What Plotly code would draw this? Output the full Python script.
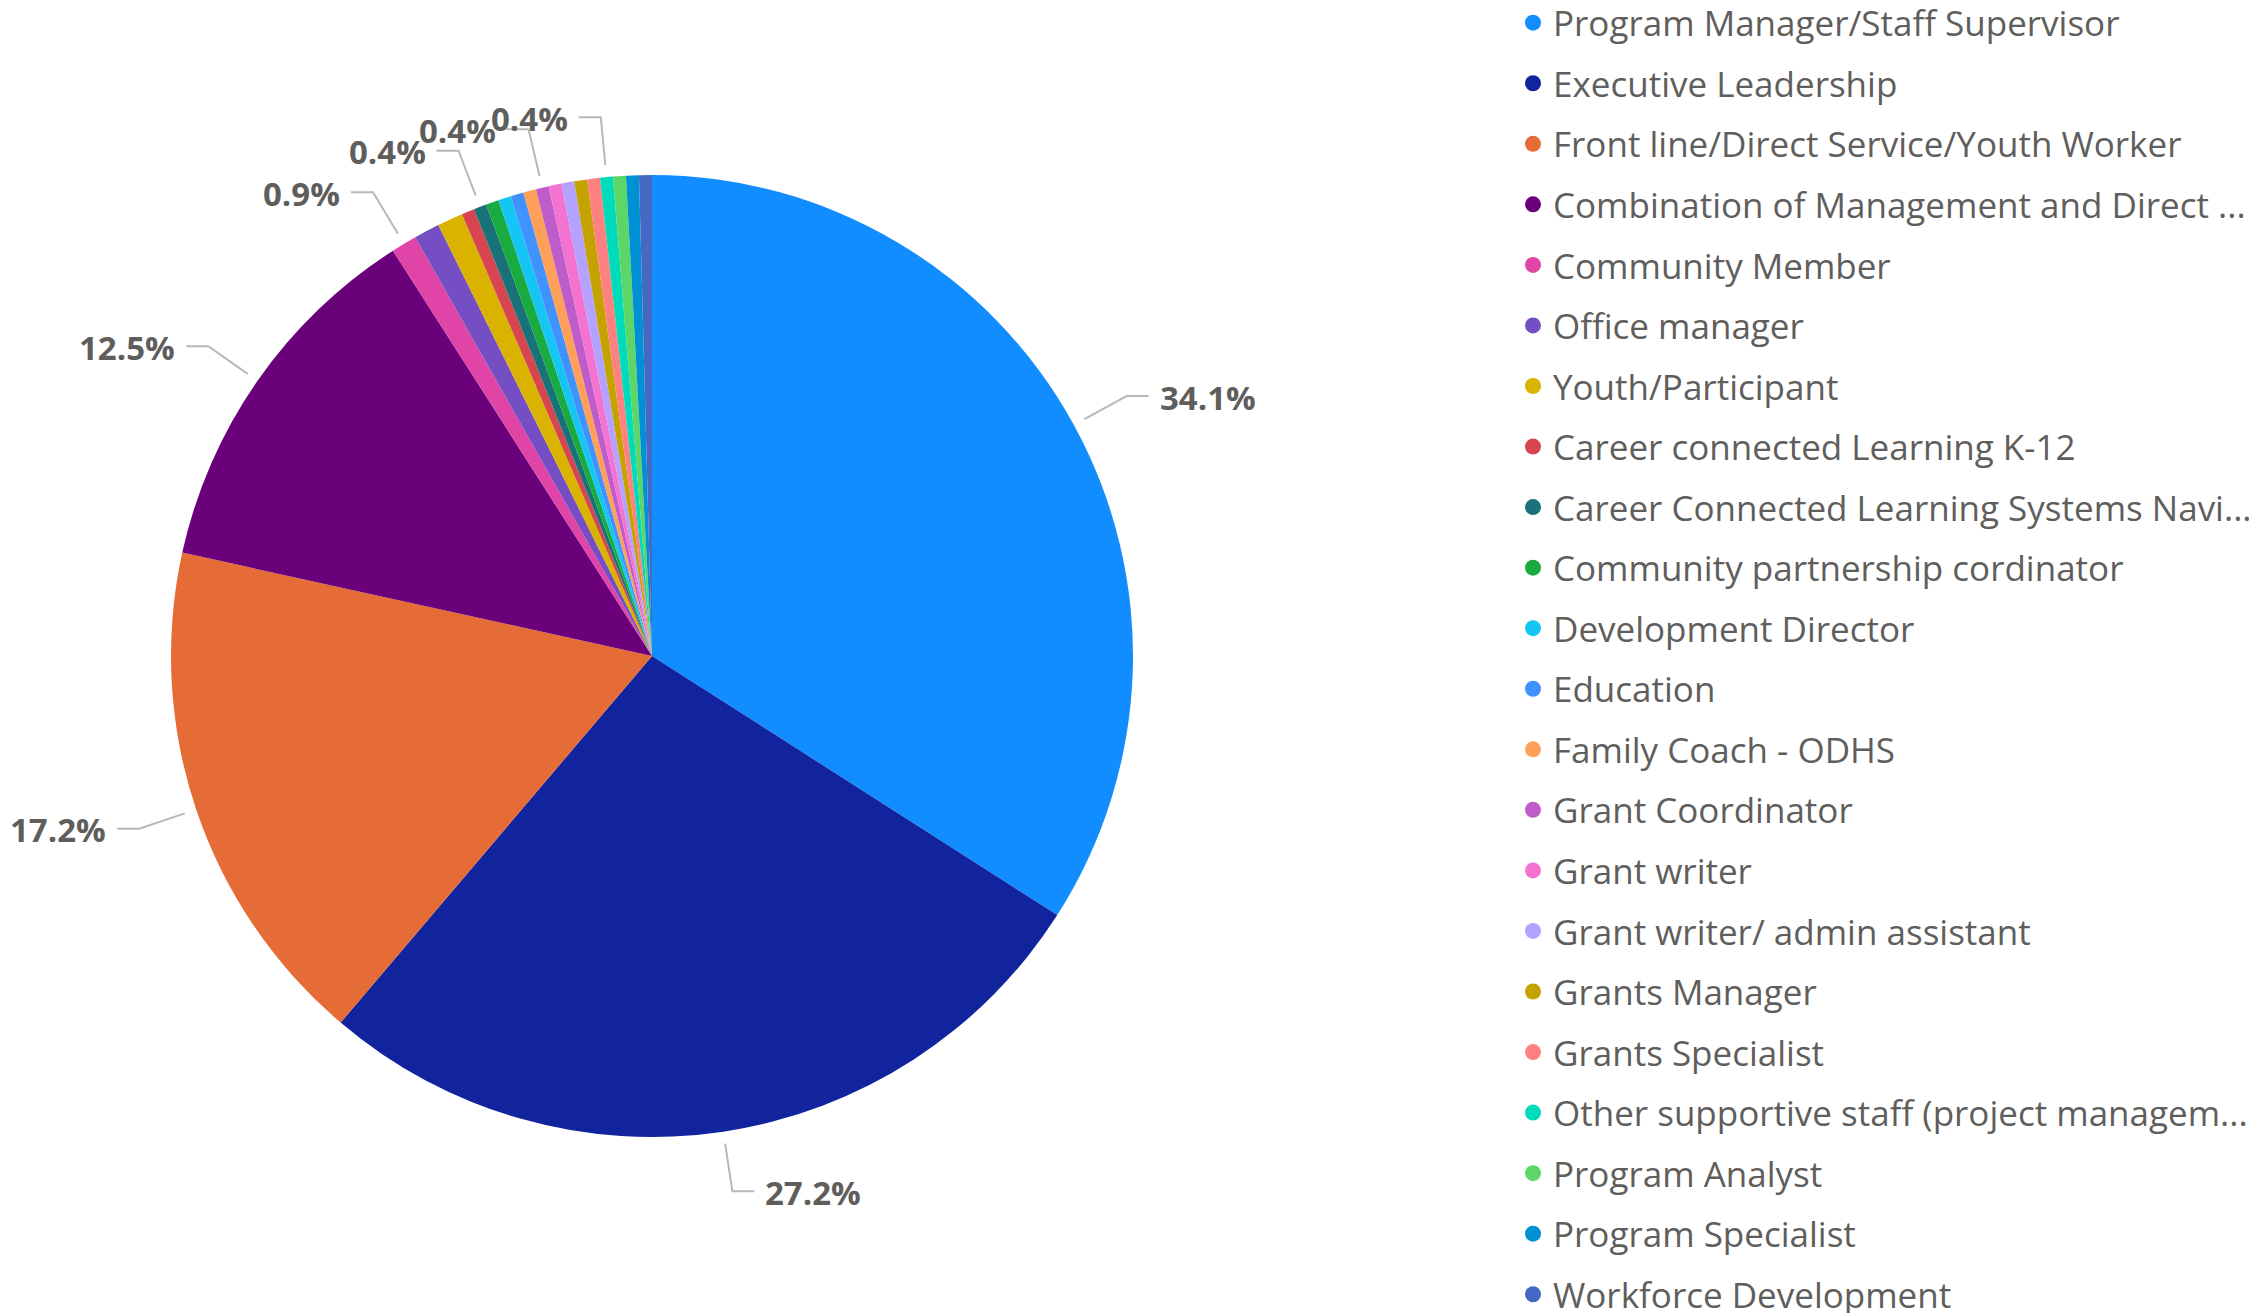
import math

import plotly.graph_objects as go

# roles as they appear (truncated) in the legend
roles = [
    "Program Manager/Staff Supervisor",
    "Executive Leadership",
    "Front line/Direct Service/Youth Worker",
    "Combination of Management and Direct ...",
    "Community Member",
    "Office manager",
    "Youth/Participant",
    "Career connected Learning K-12",
    "Career Connected Learning Systems Navi...",
    "Community partnership cordinator",
    "Development Director",
    "Education",
    "Family Coach - ODHS",
    "Grant Coordinator",
    "Grant writer",
    "Grant writer/ admin assistant",
    "Grants Manager",
    "Grants Specialist",
    "Other supportive staff (project managem...",
    "Program Analyst",
    "Program Specialist",
    "Workforce Development",
]
counts = [79, 63, 40, 29, 2, 2, 2, 1, 1, 1, 1, 1, 1, 1, 1, 1, 1, 1, 1, 1, 1, 1]
colors = [
    "#118DFF", "#12239E", "#E66C37", "#6B007B", "#E044A7", "#744EC2",
    "#D9B300", "#D64550", "#197278", "#1AAB40", "#15C6F4", "#4092FF",
    "#FFA058", "#BE5DC9", "#F472D0", "#B5A1FF", "#C4A200", "#FF8080",
    "#00DBBC", "#5BD667", "#0091D5", "#4668C5",
]
# slices that get a data label
labelled = [
    "Program Manager/Staff Supervisor",
    "Executive Leadership",
    "Front line/Direct Service/Youth Worker",
    "Combination of Management and Direct ...",
    "Community Member",
    "Career Connected Learning Systems Navi...",
    "Grant Coordinator",
    "Other supportive staff (project managem...",
]

W, H = 2263, 1313
CX, CY, R = 652, 656, 481  # pie centre / radius in pixels
TEXT = "#605E5C"
FONT = "Segoe UI, Open Sans, sans-serif"

fig = go.Figure()
fig.add_trace(
    go.Pie(
        labels=roles,
        values=counts,
        marker=dict(colors=colors, line=dict(width=0)),
        sort=False,
        direction="clockwise",
        rotation=0,
        textinfo="none",
        hoverinfo="label+percent",
        showlegend=False,
        domain=dict(
            x=[(CX - R) / W, (CX + R) / W],
            y=[1 - (CY + R) / H, 1 - (CY - R) / H],
        ),
    )
)

# legend with round markers
for i, (role, col) in enumerate(zip(roles, colors)):
    fig.add_trace(
        go.Scatter(
            x=[None], y=[None], mode="markers", name=role,
            marker=dict(color=col, size=16), legendgroup=str(i),
            hoverinfo="skip",
        )
    )

# data labels with leader lines
total = sum(counts)
shapes, annotations = [], []
cum = 0
for role, c in zip(roles, counts):
    mid = cum + c / 2
    cum += c
    if role not in labelled:
        continue
    th = 2 * math.pi * mid / total
    s, co = math.sin(th), math.cos(th)
    tx, ty = CX + R * 1.025 * s, CY - R * 1.025 * co
    ex, ey = CX + R * 1.125 * s, CY - R * 1.125 * co
    side = 1 if s >= 0 else -1
    hx = ex + side * 22
    path = "M {} {} L {} {} L {} {}".format(
        tx / W, 1 - ty / H, ex / W, 1 - ey / H, hx / W, 1 - ey / H
    )
    shapes.append(
        dict(type="path", path=path, xref="paper", yref="paper",
             line=dict(color="#B8B8B8", width=2))
    )
    annotations.append(
        dict(
            x=(hx + side * 9) / W, y=1 - ey / H, xref="paper", yref="paper",
            text="{:.1f}%".format(c / total * 100), showarrow=False,
            xanchor="left" if side > 0 else "right", yanchor="middle",
            yshift=-1,
            font=dict(family=FONT, size=33, color=TEXT, weight="bold"),
        )
    )

fig.update_layout(
    width=W,
    height=H,
    margin=dict(l=0, r=0, t=0, b=0, autoexpand=False),
    paper_bgcolor="white",
    plot_bgcolor="white",
    xaxis=dict(visible=False),
    yaxis=dict(visible=False),
    shapes=shapes,
    annotations=annotations,
    legend=dict(
        x=1513 / W, y=1.005, xanchor="left", yanchor="top",
        font=dict(family=FONT, size=35, color=TEXT),
        tracegroupgap=12.05, maxheight=1500,
        bgcolor="rgba(0,0,0,0)",
    ),
)
fig.write_html(
    "out.html",
    config={"displayModeBar": False},
    post_script="document.body.style.margin = '0';",
)
